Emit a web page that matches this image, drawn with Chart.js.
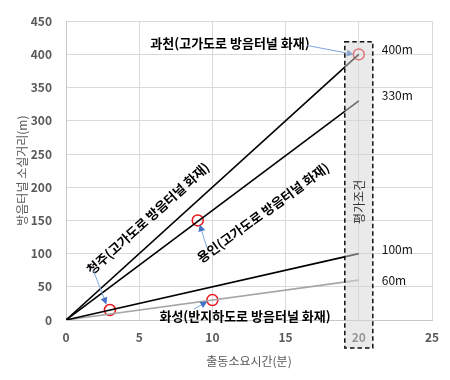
<!DOCTYPE html>
<html><head><meta charset="utf-8">
<script src="https://cdn.jsdelivr.net/npm/chart.js@4.4.1/dist/chart.umd.min.js"></script>
<style>html,body{margin:0;padding:0;background:#fff}canvas{display:block}</style>
</head><body>
<canvas id="c" width="450" height="380"></canvas>
<script>
// ---- data ----
const xTicks = [0, 5, 10, 15, 20, 25];
const yTicks = [0, 50, 100, 150, 200, 250, 300, 350, 400, 450];
const evalTime = 20;                         // 평가조건 (minutes)
const lineEnds = [400, 330, 100, 60];        // distance at 20 min
const lineEndLabels = ['400m', '330m', '100m', '60m'];
const incidentNames = ['과천(고가도로 방음터널 화재)', '청주(고가도로 방음터널 화재)', '용인(고가도로 방음터널 화재)', '화성(반지하도로 방음터널 화재)'];
const incidentTimes = [20, 3, 9, 10];
const incidentDist = [400, 15, 150, 30];
const xTitle = '출동소요시간(분)';
const yTitle = '방음터널 소실거리(m)';
const boxLabel = '평가조건';

const FONT = '"Noto Sans CJK KR", "Noto Sans", sans-serif';
const lineColors = ['#000', '#000', '#000', '#a6a6a6'];

const datasets = lineEnds.map((v, i) => ({
  type: 'scatter', showLine: true,
  data: [{x: 0, y: 0}, {x: evalTime, y: v}],
  borderColor: lineColors[i], borderWidth: 1.6, pointRadius: 0, fill: false
}));
datasets.push({
  type: 'scatter',
  data: incidentTimes.map((t, i) => ({x: t, y: incidentDist[i]})),
  pointRadius: 5.5, pointBorderColor: '#e8141b', pointBorderWidth: 1.5,
  pointBackgroundColor: 'rgba(0,0,0,0)', showLine: false
});

// annotation layout (label centers in data units, rotation, arrow offsets in px)
const annoLayout = [
  {cx: 11.2, cy: 416.5, rot: 0,   head: [-5, 0],    tail: [-47, -9]},
  {cx: 5.6,  cy: 153,   rot: -42, head: [-3.5, -5.5], tail: [-13, -34]},
  {cx: 13.46,cy: 161.6, rot: -36, head: [2, 4],     tail: [7, 23]},
  {cx: 12.23,cy: 5.8,   rot: 0,   head: [-5, 1.5],  tail: [-13.5, 7.5]}
];
const endLabelOffsets = [-5, -5, -4, 0];

function arrow(ctx, x1, y1, x2, y2) {
  ctx.save();
  ctx.strokeStyle = '#7ea6e0'; ctx.lineWidth = 1;
  const a = Math.atan2(y2 - y1, x2 - x1);
  const hl = 7, hw = 3.5;
  const bx = x2 - hl * Math.cos(a), by = y2 - hl * Math.sin(a);
  ctx.beginPath(); ctx.moveTo(x1, y1); ctx.lineTo(bx, by); ctx.stroke();
  ctx.fillStyle = '#4472c4';
  ctx.beginPath();
  ctx.moveTo(x2, y2);
  ctx.lineTo(bx + hw * Math.sin(a), by - hw * Math.cos(a));
  ctx.lineTo(bx - hw * Math.sin(a), by + hw * Math.cos(a));
  ctx.closePath(); ctx.fill();
  ctx.restore();
}

const annoPlugin = {
  id: 'anno',
  afterDraw(chart) {
    const {ctx, scales: {x, y}, chartArea} = chart;
    // incident labels + arrows
    incidentNames.forEach((name, i) => {
      const L = annoLayout[i];
      ctx.save();
      ctx.translate(x.getPixelForValue(L.cx), y.getPixelForValue(L.cy));
      ctx.rotate(L.rot * Math.PI / 180);
      ctx.font = 'bold 13px ' + FONT;
      ctx.fillStyle = '#000'; ctx.textAlign = 'center'; ctx.textBaseline = 'middle';
      ctx.fillText(name, 0, 0);
      ctx.restore();
      const px = x.getPixelForValue(incidentTimes[i]), py = y.getPixelForValue(incidentDist[i]);
      const hx = px + L.head[0], hy = py + L.head[1];
      arrow(ctx, hx + L.tail[0], hy + L.tail[1], hx, hy);
    });
    // end labels
    ctx.save();
    ctx.font = '12px ' + FONT; ctx.fillStyle = '#111';
    ctx.textAlign = 'left'; ctx.textBaseline = 'middle';
    lineEnds.forEach((v, i) => {
      ctx.fillText(lineEndLabels[i], x.getPixelForValue(evalTime) + 23, y.getPixelForValue(v) + endLabelOffsets[i]);
    });
    ctx.restore();
    // evaluation box overlay
    const bx1 = x.getPixelForValue(evalTime) - 14, bx2 = x.getPixelForValue(evalTime) + 14;
    const by1 = y.getPixelForValue(419), by2 = chartArea.bottom + 28;
    ctx.save();
    ctx.fillStyle = 'rgba(214,214,214,0.5)';
    ctx.fillRect(bx1, by1, bx2 - bx1, by2 - by1);
    ctx.strokeStyle = '#111'; ctx.lineWidth = 1.5; ctx.setLineDash([4.5, 3]);
    ctx.strokeRect(bx1, by1, bx2 - bx1, by2 - by1);
    ctx.restore();
    ctx.save();
    ctx.translate(x.getPixelForValue(evalTime) + 1, (by1 + by2) / 2 + 7);
    ctx.rotate(-Math.PI / 2);
    ctx.font = '12px ' + FONT; ctx.fillStyle = '#333';
    ctx.textAlign = 'center'; ctx.textBaseline = 'middle';
    ctx.fillText(boxLabel, 0, 0);
    ctx.restore();
  }
};

new Chart(document.getElementById('c'), {
  type: 'scatter',
  data: {datasets},
  options: {
    responsive: false, animation: false,
    layout: {padding: {top: 11, right: 18, left: 0, bottom: 0}},
    plugins: {legend: {display: false}, tooltip: {enabled: false}},
    scales: {
      x: {
        type: 'linear', min: 0, max: 25,
        afterBuildTicks: s => { s.ticks = xTicks.map(v => ({value: v})); },
        afterFit: s => { s.height = 60; },
        grid: {color: '#d9d9d9', drawTicks: false},
        border: {color: '#c8c8c8'},
        ticks: {padding: 10, color: '#595959', font: {family: FONT, size: 12, weight: 'bold'}},
        title: {display: true, text: xTitle, color: '#595959', font: {family: FONT, size: 12}, padding: {top: 0, bottom: 11}}
      },
      y: {
        type: 'linear', min: 0, max: 450,
        afterBuildTicks: s => { s.ticks = yTicks.map(v => ({value: v})); },
        afterFit: s => { s.width = 66; },
        grid: {color: '#d9d9d9', drawTicks: false},
        border: {color: '#c8c8c8'},
        ticks: {padding: 14, color: '#595959', font: {family: FONT, size: 12, weight: 'bold'}},
        title: {display: true, text: yTitle, color: '#595959', font: {family: FONT, size: 12}, padding: {top: 15, bottom: 0}}
      }
    }
  },
  plugins: [annoPlugin]
});
</script>
</body></html>
